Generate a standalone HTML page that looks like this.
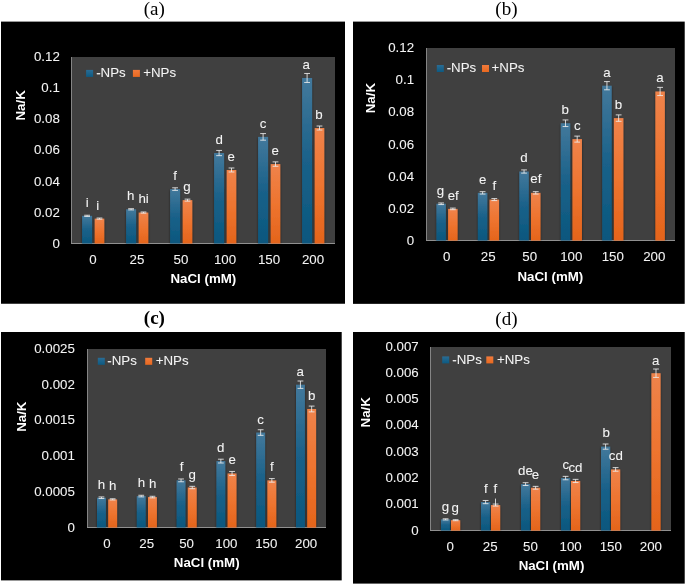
<!DOCTYPE html>
<html><head><meta charset="utf-8"><title>Na/K</title>
<style>
html,body{margin:0;padding:0;background:#fff;}
body{width:685px;height:585px;overflow:hidden;}
svg{display:block;opacity:0.999;}
text{font-family:"Liberation Sans",sans-serif;}
.t{font-size:13.3px;fill:#f4f4f4;stroke:#f4f4f4;stroke-width:0.07px;}
.b{font-size:13.3px;fill:#fff;font-weight:bold;}
.ti{font-family:"Liberation Serif",serif;font-size:19px;fill:#000;}
</style></head><body>
<svg width="685" height="585" viewBox="0 0 685 585">
<defs>
<linearGradient id="gb" x1="0" y1="0" x2="0" y2="1"><stop offset="0" stop-color="#43799c"/><stop offset="0.5" stop-color="#1a6189"/><stop offset="1" stop-color="#0a577e"/></linearGradient>
<linearGradient id="go" x1="0" y1="0" x2="0" y2="1"><stop offset="0" stop-color="#ef834b"/><stop offset="0.5" stop-color="#ee742f"/><stop offset="1" stop-color="#e4641b"/></linearGradient>
<linearGradient id="lb" x1="0" y1="0" x2="0" y2="1"><stop offset="0" stop-color="#2a6c94"/><stop offset="1" stop-color="#0c5a82"/></linearGradient>
<linearGradient id="lo" x1="0" y1="0" x2="0" y2="1"><stop offset="0" stop-color="#f07a3c"/><stop offset="1" stop-color="#e9691f"/></linearGradient>
<filter id="sh" x="-50%" y="-10%" width="200%" height="120%"><feGaussianBlur in="SourceAlpha" stdDeviation="1.2"/><feOffset dx="0" dy="0.5"/><feComponentTransfer><feFuncA type="linear" slope="0.55"/></feComponentTransfer><feMerge><feMergeNode/><feMergeNode in="SourceGraphic"/></feMerge></filter>
</defs>
<rect width="685" height="585" fill="#fff"/>

<!-- panel a -->
<text class="ti" x="154.3" y="14.7" text-anchor="middle" font-weight="normal">(a)</text>
<rect x="1" y="21.6" width="344" height="282.15" fill="#000"/>
<rect x="71" y="57" width="264" height="187" fill="#404040"/>
<rect x="71" y="57" width="1" height="187" fill="#858585"/>
<text class="t" x="59.8" y="248.05" text-anchor="end">0</text>
<text class="t" x="59.8" y="216.92" text-anchor="end">0.02</text>
<text class="t" x="59.8" y="185.63" text-anchor="end">0.04</text>
<text class="t" x="59.8" y="154.35" text-anchor="end">0.06</text>
<text class="t" x="59.8" y="123.07" text-anchor="end">0.08</text>
<text class="t" x="59.8" y="91.88" text-anchor="end">0.1</text>
<text class="t" x="59.8" y="60.8" text-anchor="end">0.12</text>
<text class="t" x="93" y="264" text-anchor="middle">0</text>
<text class="t" x="137" y="264" text-anchor="middle">25</text>
<text class="t" x="181" y="264" text-anchor="middle">50</text>
<text class="t" x="225" y="264" text-anchor="middle">100</text>
<text class="t" x="269" y="264" text-anchor="middle">150</text>
<text class="t" x="313" y="264" text-anchor="middle">200</text>
<text class="b" transform="translate(25.1 105.4) rotate(-90)" text-anchor="middle">Na/K</text>
<text class="b" x="203.4" y="283.4" text-anchor="middle">NaCl (mM)</text>
<rect x="71" y="243" width="264" height="1" fill="#858585"/>
<rect x="82.1" y="215.84" width="10" height="28.16" fill="url(#gb)" filter="url(#sh)"/>
<rect x="94.7" y="218.63" width="9.6" height="25.37" fill="url(#go)" filter="url(#sh)"/>
<rect x="126.1" y="209.31" width="10" height="34.69" fill="url(#gb)" filter="url(#sh)"/>
<rect x="138.7" y="212.57" width="9.6" height="31.43" fill="url(#go)" filter="url(#sh)"/>
<rect x="170.1" y="189.1" width="10" height="54.9" fill="url(#gb)" filter="url(#sh)"/>
<rect x="182.7" y="200.14" width="9.6" height="43.86" fill="url(#go)" filter="url(#sh)"/>
<rect x="214.1" y="153.05" width="10" height="90.95" fill="url(#gb)" filter="url(#sh)"/>
<rect x="226.7" y="169.99" width="9.6" height="74.01" fill="url(#go)" filter="url(#sh)"/>
<rect x="258.1" y="136.88" width="10" height="107.12" fill="url(#gb)" filter="url(#sh)"/>
<rect x="270.7" y="164.08" width="9.6" height="79.92" fill="url(#go)" filter="url(#sh)"/>
<rect x="302.1" y="77.98" width="10" height="166.02" fill="url(#gb)" filter="url(#sh)"/>
<rect x="314.7" y="128.03" width="9.6" height="115.97" fill="url(#go)" filter="url(#sh)"/>
<rect x="71" y="243" width="264" height="1" fill="#a0a0a0" fill-opacity="0.4"/>
<path d="M87.1 215.24V216.44M84.2 215.24H90M84.2 216.44H90M99.5 218.03V219.23M96.6 218.03H102.4M96.6 219.23H102.4M131.1 208.71V209.91M128.2 208.71H134M128.2 209.91H134M143.5 211.97V213.17M140.6 211.97H146.4M140.6 213.17H146.4M175.1 187.8V190.4M172.2 187.8H178M172.2 190.4H178M187.5 199.14V201.14M184.6 199.14H190.4M184.6 201.14H190.4M219.1 150.45V155.65M216.2 150.45H222M216.2 155.65H222M231.5 167.99V171.99M228.6 167.99H234.4M228.6 171.99H234.4M263.1 133.58V140.18M260.2 133.58H266M260.2 140.18H266M275.5 161.88V166.28M272.6 161.88H278.4M272.6 166.28H278.4M307.1 73.48V82.48M304.2 73.48H310M304.2 82.48H310M319.5 126.03V130.03M316.6 126.03H322.4M316.6 130.03H322.4" fill="none" stroke="#ececec" stroke-width="0.85"/>
<text class="t" x="87.2" y="206.8" text-anchor="middle">i</text>
<text class="t" x="97.8" y="209.9" text-anchor="middle">i</text>
<text class="t" x="130.6" y="200.2" text-anchor="middle">h</text>
<text class="t" x="143.6" y="203.4" text-anchor="middle">hi</text>
<text class="t" x="175.2" y="179.6" text-anchor="middle">f</text>
<text class="t" x="187" y="190.9" text-anchor="middle">g</text>
<text class="t" x="219.1" y="144" text-anchor="middle">d</text>
<text class="t" x="231.2" y="160.8" text-anchor="middle">e</text>
<text class="t" x="263" y="128.4" text-anchor="middle">c</text>
<text class="t" x="275.3" y="154.6" text-anchor="middle">e</text>
<text class="t" x="306.3" y="68.5" text-anchor="middle">a</text>
<text class="t" x="319" y="118.7" text-anchor="middle">b</text>
<rect x="86.1" y="69.9" width="7" height="7" fill="url(#lb)"/>
<text class="t" x="96.2" y="77.1">-NPs</text>
<rect x="132.9" y="69.9" width="7" height="7" fill="url(#lo)"/>
<text class="t" x="143.2" y="77.1">+NPs</text>
<!-- panel b -->
<text class="ti" x="506.4" y="14.7" text-anchor="middle" font-weight="normal">(b)</text>
<rect x="353" y="21.6" width="331" height="282.25" fill="#000"/>
<rect x="426" y="48" width="249" height="193" fill="#404040"/>
<rect x="426" y="48" width="1" height="193" fill="#858585"/>
<rect x="684" y="21.6" width="1" height="282.25" fill="#484848"/>
<text class="t" x="414.1" y="245.2" text-anchor="end">0</text>
<text class="t" x="414.1" y="213.02" text-anchor="end">0.02</text>
<text class="t" x="414.1" y="180.73" text-anchor="end">0.04</text>
<text class="t" x="414.1" y="148.5" text-anchor="end">0.06</text>
<text class="t" x="414.1" y="116.27" text-anchor="end">0.08</text>
<text class="t" x="414.1" y="84.03" text-anchor="end">0.1</text>
<text class="t" x="414.1" y="51.8" text-anchor="end">0.12</text>
<text class="t" x="446.75" y="261.3" text-anchor="middle">0</text>
<text class="t" x="488.25" y="261.3" text-anchor="middle">25</text>
<text class="t" x="529.75" y="261.3" text-anchor="middle">50</text>
<text class="t" x="571.25" y="261.3" text-anchor="middle">100</text>
<text class="t" x="612.75" y="261.3" text-anchor="middle">150</text>
<text class="t" x="654.25" y="261.3" text-anchor="middle">200</text>
<text class="b" transform="translate(374.6 98.1) rotate(-90)" text-anchor="middle">Na/K</text>
<text class="b" x="550.4" y="280.6" text-anchor="middle">NaCl (mM)</text>
<rect x="426" y="240" width="249" height="1" fill="#858585"/>
<rect x="436.4" y="203.76" width="9.5" height="37.24" fill="url(#gb)" filter="url(#sh)"/>
<rect x="448.1" y="208.9" width="9.5" height="32.1" fill="url(#go)" filter="url(#sh)"/>
<rect x="477.85" y="192.86" width="9.5" height="48.14" fill="url(#gb)" filter="url(#sh)"/>
<rect x="489.55" y="199.59" width="9.5" height="41.41" fill="url(#go)" filter="url(#sh)"/>
<rect x="519.3" y="171.52" width="9.5" height="69.48" fill="url(#gb)" filter="url(#sh)"/>
<rect x="531" y="192.86" width="9.5" height="48.14" fill="url(#go)" filter="url(#sh)"/>
<rect x="560.75" y="123.24" width="9.5" height="117.76" fill="url(#gb)" filter="url(#sh)"/>
<rect x="572.45" y="139.12" width="9.5" height="101.88" fill="url(#go)" filter="url(#sh)"/>
<rect x="602.2" y="85.7" width="9.5" height="155.3" fill="url(#gb)" filter="url(#sh)"/>
<rect x="613.9" y="118.1" width="9.5" height="122.9" fill="url(#go)" filter="url(#sh)"/>
<rect x="655.35" y="91.47" width="9.5" height="149.53" fill="url(#go)" filter="url(#sh)"/>
<rect x="426" y="240" width="249" height="1" fill="#a0a0a0" fill-opacity="0.4"/>
<path d="M441.15 202.96V204.56M438.25 202.96H444.05M438.25 204.56H444.05M452.85 208.1V209.7M449.95 208.1H455.75M449.95 209.7H455.75M482.6 191.66V194.06M479.7 191.66H485.5M479.7 194.06H485.5M494.3 198.59V200.59M491.4 198.59H497.2M491.4 200.59H497.2M524.05 169.92V173.12M521.15 169.92H526.95M521.15 173.12H526.95M535.75 191.66V194.06M532.85 191.66H538.65M532.85 194.06H538.65M565.5 119.94V126.54M562.6 119.94H568.4M562.6 126.54H568.4M577.2 136.12V142.12M574.3 136.12H580.1M574.3 142.12H580.1M606.95 81.6V89.8M604.05 81.6H609.85M604.05 89.8H609.85M618.65 114.9V121.3M615.75 114.9H621.55M615.75 121.3H621.55M660.1 87.37V95.57M657.2 87.37H663M657.2 95.57H663" fill="none" stroke="#ececec" stroke-width="0.85"/>
<text class="t" x="440.5" y="195.2" text-anchor="middle">g</text>
<text class="t" x="453.2" y="199.7" text-anchor="middle">ef</text>
<text class="t" x="482.6" y="183.7" text-anchor="middle">e</text>
<text class="t" x="494.3" y="189.9" text-anchor="middle">f</text>
<text class="t" x="524" y="162.4" text-anchor="middle">d</text>
<text class="t" x="535.9" y="183.2" text-anchor="middle">ef</text>
<text class="t" x="565.1" y="113.8" text-anchor="middle">b</text>
<text class="t" x="577.4" y="130.3" text-anchor="middle">c</text>
<text class="t" x="607" y="76.9" text-anchor="middle">a</text>
<text class="t" x="618.4" y="108.7" text-anchor="middle">b</text>
<text class="t" x="659.9" y="82" text-anchor="middle">a</text>
<rect x="436.8" y="65" width="7" height="7" fill="url(#lb)"/>
<text class="t" x="446.7" y="72.4">-NPs</text>
<rect x="482" y="65" width="7" height="7" fill="url(#lo)"/>
<text class="t" x="491.6" y="72.4">+NPs</text>
<!-- panel c -->
<text class="ti" x="154.4" y="324.3" text-anchor="middle" font-weight="bold">(c)</text>
<rect x="1" y="332" width="340.7" height="248.4" fill="#000"/>
<rect x="87" y="349" width="239" height="179" fill="#404040"/>
<rect x="87" y="349" width="1" height="179" fill="#858585"/>
<text class="t" x="74.9" y="532.2" text-anchor="end">0</text>
<text class="t" x="74.9" y="495.8" text-anchor="end">0.0005</text>
<text class="t" x="74.9" y="460.1" text-anchor="end">0.001</text>
<text class="t" x="74.9" y="424.3" text-anchor="end">0.0015</text>
<text class="t" x="74.9" y="388.5" text-anchor="end">0.002</text>
<text class="t" x="74.9" y="352.8" text-anchor="end">0.0025</text>
<text class="t" x="106.92" y="548" text-anchor="middle">0</text>
<text class="t" x="146.75" y="548" text-anchor="middle">25</text>
<text class="t" x="186.58" y="548" text-anchor="middle">50</text>
<text class="t" x="226.42" y="548" text-anchor="middle">100</text>
<text class="t" x="266.25" y="548" text-anchor="middle">150</text>
<text class="t" x="306.08" y="548" text-anchor="middle">200</text>
<text class="b" transform="translate(26 416.7) rotate(-90)" text-anchor="middle">Na/K</text>
<text class="b" x="206.7" y="566.8" text-anchor="middle">NaCl (mM)</text>
<rect x="87" y="527" width="239" height="1" fill="#858585"/>
<rect x="97" y="497.73" width="8.9" height="30.27" fill="url(#gb)" filter="url(#sh)"/>
<rect x="108.2" y="499.37" width="8.9" height="28.63" fill="url(#go)" filter="url(#sh)"/>
<rect x="136.8" y="496.08" width="8.9" height="31.92" fill="url(#gb)" filter="url(#sh)"/>
<rect x="148" y="497.08" width="8.9" height="30.92" fill="url(#go)" filter="url(#sh)"/>
<rect x="176.6" y="480.38" width="8.9" height="47.62" fill="url(#gb)" filter="url(#sh)"/>
<rect x="187.8" y="487.52" width="8.9" height="40.48" fill="url(#go)" filter="url(#sh)"/>
<rect x="216.4" y="461.1" width="8.9" height="66.9" fill="url(#gb)" filter="url(#sh)"/>
<rect x="227.6" y="473.45" width="8.9" height="54.55" fill="url(#go)" filter="url(#sh)"/>
<rect x="256.2" y="432.54" width="8.9" height="95.46" fill="url(#gb)" filter="url(#sh)"/>
<rect x="267.4" y="480.38" width="8.9" height="47.62" fill="url(#go)" filter="url(#sh)"/>
<rect x="296" y="384.7" width="8.9" height="143.3" fill="url(#gb)" filter="url(#sh)"/>
<rect x="307.2" y="408.98" width="8.9" height="119.02" fill="url(#go)" filter="url(#sh)"/>
<rect x="87" y="527" width="239" height="1" fill="#a0a0a0" fill-opacity="0.4"/>
<path d="M101.45 496.93V498.53M98.55 496.93H104.35M98.55 498.53H104.35M112.65 498.77V499.97M109.75 498.77H115.55M109.75 499.97H115.55M141.25 495.28V496.88M138.35 495.28H144.15M138.35 496.88H144.15M152.45 496.28V497.88M149.55 496.28H155.35M149.55 497.88H155.35M181.05 478.98V481.78M178.15 478.98H183.95M178.15 481.78H183.95M192.25 486.32V488.72M189.35 486.32H195.15M189.35 488.72H195.15M220.85 459.2V463M217.95 459.2H223.75M217.95 463H223.75M232.05 471.45V475.45M229.15 471.45H234.95M229.15 475.45H234.95M260.65 429.74V435.34M257.75 429.74H263.55M257.75 435.34H263.55M271.85 478.58V482.18M268.95 478.58H274.75M268.95 482.18H274.75M300.45 381V388.4M297.55 381H303.35M297.55 388.4H303.35M311.65 406.08V411.88M308.75 406.08H314.55M308.75 411.88H314.55" fill="none" stroke="#ececec" stroke-width="0.85"/>
<text class="t" x="101.5" y="488.7" text-anchor="middle">h</text>
<text class="t" x="112.8" y="490.4" text-anchor="middle">h</text>
<text class="t" x="141.5" y="487.1" text-anchor="middle">h</text>
<text class="t" x="152.8" y="488.1" text-anchor="middle">h</text>
<text class="t" x="181.7" y="470.9" text-anchor="middle">f</text>
<text class="t" x="192.2" y="478.5" text-anchor="middle">g</text>
<text class="t" x="220.7" y="451.8" text-anchor="middle">d</text>
<text class="t" x="232.2" y="464.1" text-anchor="middle">e</text>
<text class="t" x="260.7" y="423.7" text-anchor="middle">c</text>
<text class="t" x="271.8" y="470.7" text-anchor="middle">f</text>
<text class="t" x="300.3" y="375.9" text-anchor="middle">a</text>
<text class="t" x="311.8" y="399.5" text-anchor="middle">b</text>
<rect x="97.8" y="357.8" width="7" height="7" fill="url(#lb)"/>
<text class="t" x="107.3" y="365.2">-NPs</text>
<rect x="145.2" y="357.8" width="7" height="7" fill="url(#lo)"/>
<text class="t" x="155.7" y="365.2">+NPs</text>
<!-- panel d -->
<text class="ti" x="506.4" y="324.5" text-anchor="middle" font-weight="normal">(d)</text>
<rect x="353" y="332" width="331" height="251.6" fill="#000"/>
<rect x="430" y="347" width="241" height="184" fill="#404040"/>
<rect x="430" y="347" width="1" height="184" fill="#858585"/>
<rect x="684" y="332" width="1" height="251.6" fill="#484848"/>
<text class="t" x="418.7" y="534.9" text-anchor="end">0</text>
<text class="t" x="418.7" y="508.19" text-anchor="end">0.001</text>
<text class="t" x="418.7" y="481.87" text-anchor="end">0.002</text>
<text class="t" x="418.7" y="455.66" text-anchor="end">0.003</text>
<text class="t" x="418.7" y="429.44" text-anchor="end">0.004</text>
<text class="t" x="418.7" y="403.23" text-anchor="end">0.005</text>
<text class="t" x="418.7" y="377.01" text-anchor="end">0.006</text>
<text class="t" x="418.7" y="350.8" text-anchor="end">0.007</text>
<text class="t" x="450.08" y="550.7" text-anchor="middle">0</text>
<text class="t" x="490.25" y="550.7" text-anchor="middle">25</text>
<text class="t" x="530.42" y="550.7" text-anchor="middle">50</text>
<text class="t" x="570.58" y="550.7" text-anchor="middle">100</text>
<text class="t" x="610.75" y="550.7" text-anchor="middle">150</text>
<text class="t" x="650.92" y="550.7" text-anchor="middle">200</text>
<text class="b" transform="translate(369.5 412.3) rotate(-90)" text-anchor="middle">Na/K</text>
<text class="b" x="551.5" y="569.5" text-anchor="middle">NaCl (mM)</text>
<rect x="430" y="530" width="241" height="1" fill="#858585"/>
<rect x="441" y="519.39" width="9.2" height="11.61" fill="url(#gb)" filter="url(#sh)"/>
<rect x="451" y="520.2" width="9.2" height="10.8" fill="url(#go)" filter="url(#sh)"/>
<rect x="481" y="502.08" width="9.2" height="28.92" fill="url(#gb)" filter="url(#sh)"/>
<rect x="491" y="505.07" width="9.2" height="25.93" fill="url(#go)" filter="url(#sh)"/>
<rect x="521" y="484.1" width="9.2" height="46.9" fill="url(#gb)" filter="url(#sh)"/>
<rect x="531" y="487.77" width="9.2" height="43.23" fill="url(#go)" filter="url(#sh)"/>
<rect x="561" y="478.07" width="9.2" height="52.93" fill="url(#gb)" filter="url(#sh)"/>
<rect x="571" y="480.95" width="9.2" height="50.05" fill="url(#go)" filter="url(#sh)"/>
<rect x="601" y="446.61" width="9.2" height="84.39" fill="url(#gb)" filter="url(#sh)"/>
<rect x="611" y="469.42" width="9.2" height="61.58" fill="url(#go)" filter="url(#sh)"/>
<rect x="651.4" y="373.21" width="9.2" height="157.79" fill="url(#go)" filter="url(#sh)"/>
<rect x="430" y="530" width="241" height="1" fill="#a0a0a0" fill-opacity="0.4"/>
<path d="M445.6 518.79V519.99M442.7 518.79H448.5M442.7 519.99H448.5M455.6 519.7V520.7M452.7 519.7H458.5M452.7 520.7H458.5M485.6 500.48V503.68M482.7 500.48H488.5M482.7 503.68H488.5M495.6 504.07V506.07M492.7 504.07H498.5M492.7 506.07H498.5M525.6 482.7V485.5M522.7 482.7H528.5M522.7 485.5H528.5M535.6 486.37V489.17M532.7 486.37H538.5M532.7 489.17H538.5M565.6 476.37V479.77M562.7 476.37H568.5M562.7 479.77H568.5M575.6 479.35V482.56M572.7 479.35H578.5M572.7 482.56H578.5M605.6 444.01V449.21M602.7 444.01H608.5M602.7 449.21H608.5M615.6 467.62V471.22M612.7 467.62H618.5M612.7 471.22H618.5M656 369.01V377.41M653.1 369.01H658.9M653.1 377.41H658.9M495.5 498.6V505.5" fill="none" stroke="#ececec" stroke-width="0.85"/>
<text class="t" x="445.5" y="510.9" text-anchor="middle">g</text>
<text class="t" x="455.2" y="511.7" text-anchor="middle">g</text>
<text class="t" x="485.9" y="492.8" text-anchor="middle">f</text>
<text class="t" x="495.4" y="493.4" text-anchor="middle">f</text>
<text class="t" x="525.5" y="475.4" text-anchor="middle">de</text>
<text class="t" x="535.4" y="478.5" text-anchor="middle">e</text>
<text class="t" x="565.9" y="469.2" text-anchor="middle">c</text>
<text class="t" x="575.4" y="471.7" text-anchor="middle">cd</text>
<text class="t" x="606.1" y="437.4" text-anchor="middle">b</text>
<text class="t" x="615.8" y="460.4" text-anchor="middle">cd</text>
<text class="t" x="655.8" y="364.6" text-anchor="middle">a</text>
<rect x="442.2" y="356.4" width="7" height="7" fill="url(#lb)"/>
<text class="t" x="452.3" y="363.5">-NPs</text>
<rect x="486.3" y="356.4" width="7" height="7" fill="url(#lo)"/>
<text class="t" x="497" y="363.5">+NPs</text>
</svg></body></html>
